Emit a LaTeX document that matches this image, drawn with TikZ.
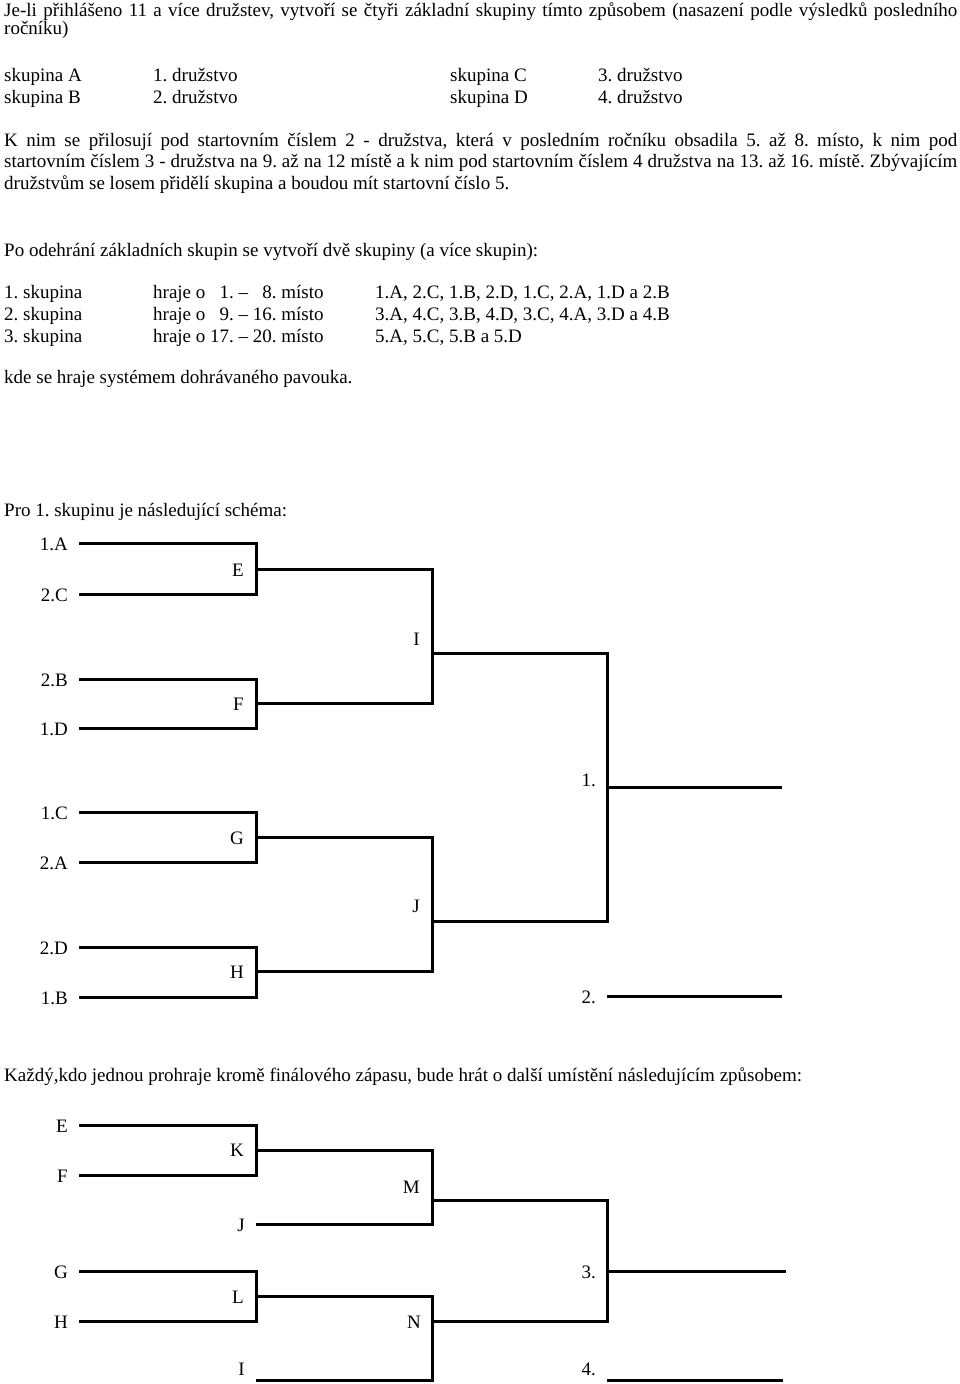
\documentclass[tikz,border=0pt]{standalone}
\usepackage{fontspec}
\setmainfont{Liberation Serif}
\frenchspacing

\begin{document}
\begin{tikzpicture}[
    x=1pt, y=-1pt,
    every node/.style={font=\fontsize{19}{22}\selectfont, inner sep=0pt},
    txt/.style={anchor=base west},
    lab/.style={anchor=base east},
    bline/.style={line width=3pt}
]
    \useasboundingbox (0,0) rectangle (960,1384);

    % Introduction
    \node[txt] (intro1) at (4,16.7) {\makebox[953pt][s]{Je-li přihlášeno 11 a více družstev, vytvoří se čtyři základní skupiny tímto způsobem (nasazení podle výsledků posledního}};
    \node[txt] (intro2) at (4,34.5) {ročníku)};

    % Basic groups
    \node[txt] (grpA) at (4,81) {skupina A};
    \node[txt] (teamA) at (153,81) {1. družstvo};
    \node[txt] (grpC) at (450,81) {skupina C};
    \node[txt] (teamC) at (598,81) {3. družstvo};
    \node[txt] (grpB) at (4,103) {skupina B};
    \node[txt] (teamB) at (153,103) {2. družstvo};
    \node[txt] (grpD) at (450,103) {skupina D};
    \node[txt] (teamD) at (598,103) {4. družstvo};

    % Seeding
    \node[txt] (seed1) at (4,146) {\makebox[953pt][s]{K nim se přilosují pod startovním číslem 2 - družstva, která v posledním ročníku obsadila 5. až 8. místo, k nim pod}};
    \node[txt] (seed2) at (4,167.5) {\makebox[953pt][s]{startovním číslem 3 - družstva na 9. až na 12 místě a k nim pod startovním číslem 4 družstva na 13. až 16. místě. Zbývajícím}};
    \node[txt] (seed3) at (4,189) {družstvům se losem přidělí skupina a boudou mít startovní číslo 5.};

    % Second stage
    \node[txt] (stage) at (4,256) {Po odehrání základních skupin se vytvoří dvě skupiny (a více skupin):};
    \node[txt] (row1) at (4,298) {1. skupina};
    \node[txt] (pl1) at (153,298) {hraje o \hphantom{1}1. – \hphantom{1}8. místo};
    \node[txt] (in1) at (375,298) {1.A, 2.C, 1.B, 2.D, 1.C, 2.A, 1.D a 2.B};
    \node[txt] (row2) at (4,320) {2. skupina};
    \node[txt] (pl2) at (153,320) {hraje o \hphantom{1}9. – 16. místo};
    \node[txt] (in2) at (375,320) {3.A, 4.C, 3.B, 4.D, 3.C, 4.A, 3.D a 4.B};
    \node[txt] (row3) at (4,342) {3. skupina};
    \node[txt] (pl3) at (153,342) {hraje o 17. – 20. místo};
    \node[txt] (in3) at (375,342) {5.A, 5.C, 5.B a 5.D};
    \node[txt] (system) at (4,383) {kde se hraje systémem dohrávaného pavouka.};

    % Bracket for group 1
    \node[txt] (head1) at (4,516) {Pro 1. skupinu je následující schéma:};
    \foreach \t/\y [count=\i] in {1.A/543, 2.C/594, 2.B/679, 1.D/728, 1.C/812, 2.A/862, 2.D/947, 1.B/997} {
        \node[lab] (e\i) at (68,\y+7) {\t};
        \coordinate (s\i) at (79,\y);
    }
    \coordinate (mE) at (256,569);
    \coordinate (mF) at (256,703);
    \coordinate (mG) at (256,837);
    \coordinate (mH) at (256,971);
    \coordinate (mI) at (432,653);
    \coordinate (mJ) at (432,921);
    \coordinate (mW) at (607,787);
    \coordinate (w1) at (782,787);
    \coordinate (s2nd) at (607,996);
    \coordinate (w2) at (782,996);
    \draw[bline] (s1) -| (mE) |- (s2);
    \draw[bline] (s3) -| (mF) |- (s4);
    \draw[bline] (s5) -| (mG) |- (s6);
    \draw[bline] (s7) -| (mH) |- (s8);
    \draw[bline] (mE) -| (mI) |- (mF);
    \draw[bline] (mG) -| (mJ) |- (mH);
    \draw[bline] (mI) -| (mW) |- (mJ);
    \draw[bline] (mW) -- (w1);
    \draw[bline] (s2nd) -- (w2);
    \node[lab] (lE) at (244,576) {E};
    \node[lab] (lF) at (244,710) {F};
    \node[lab] (lG) at (244,844) {G};
    \node[lab] (lH) at (244,978) {H};
    \node[lab] (lI) at (420,645) {I};
    \node[lab] (lJ) at (420,912) {J};
    \node[lab] (l1st) at (596,786) {1.};
    \node[lab] (l2nd) at (596,1003) {2.};

    % Bracket for further places
    \node[txt] (head2) at (4,1081) {Každý,kdo jednou prohraje kromě finálového zápasu, bude hrát o další umístění následujícím způsobem:};
    \foreach \t/\y/\x [count=\i] in {E/1125/79, F/1175/79, J/1224/256, G/1271/79, H/1321/79, I/1380/256} {
        \coordinate (r\i) at (\x,\y);
    }
    \node[lab] (rE) at (68,1132) {E};
    \node[lab] (rF) at (68,1182) {F};
    \node[lab] (rJ) at (245,1231) {J};
    \node[lab] (rG) at (68,1278) {G};
    \node[lab] (rH) at (68,1328) {H};
    \node[lab] (rI) at (245,1375) {I};
    \coordinate (mK) at (256,1150);
    \coordinate (mL) at (256,1296);
    \coordinate (mM) at (432,1200);
    \coordinate (mN) at (432,1321);
    \coordinate (mT) at (607,1271);
    \coordinate (w3) at (786,1271);
    \coordinate (s4th) at (607,1380);
    \coordinate (w4) at (783,1380);
    \draw[bline] (r1) -| (mK) |- (r2);
    \draw[bline] (r4) -| (mL) |- (r5);
    \draw[bline] (mK) -| (mM) |- (r3);
    \draw[bline] (mL) -| (mN) |- (r6);
    \draw[bline] (mM) -| (mT) |- (mN);
    \draw[bline] (mT) -- (w3);
    \draw[bline] (s4th) -- (w4);
    \node[lab] (lK) at (244,1156) {K};
    \node[lab] (lL) at (244,1303) {L};
    \node[lab] (lM) at (420,1193) {M};
    \node[lab] (lN) at (421,1328) {N};
    \node[lab] (l3rd) at (596,1278) {3.};
    \node[lab] (l4th) at (596,1375) {4.};
\end{tikzpicture}
\end{document}
